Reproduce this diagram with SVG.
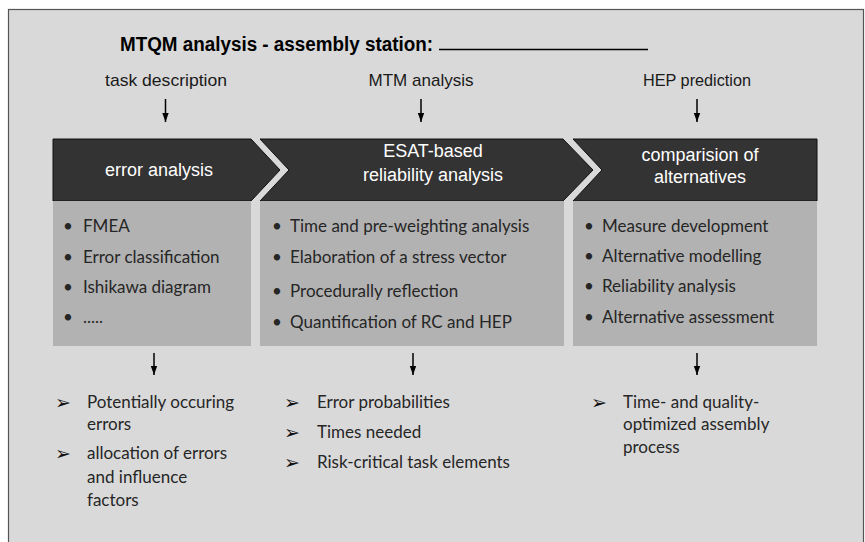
<svg xmlns="http://www.w3.org/2000/svg" width="865" height="542" viewBox="0 0 865 542">
<style>
.title{font-family:"Liberation Sans Narrow","Liberation Sans",Arial,sans-serif;font-weight:bold;font-size:20px;fill:#000}
.in{font-family:"Liberation Sans Narrow","Liberation Sans",Arial,sans-serif;font-size:17px;fill:#1a1a1a;text-anchor:middle}
.chev{fill:#333333;stroke:#111;stroke-width:1}
.ct{font-family:"Liberation Sans",Arial,sans-serif;font-size:18px;fill:#ffffff;text-anchor:middle}
.box{fill:#b2b2b2}
.bt{font-family:Lato,"Open Sans",sans-serif;font-size:17px;fill:#262626}
.ot{font-family:Lato,"Open Sans",sans-serif;font-size:17px;fill:#262626}
.ab{font-family:"DejaVu Sans",sans-serif;font-size:19px;fill:#111}
.arr{stroke:#000;stroke-width:1.5;fill:none;marker-end:url(#ah)}
</style>
<defs>
<marker id="ah" markerWidth="9" markerHeight="8" refX="9" refY="4" orient="auto" markerUnits="userSpaceOnUse" viewBox="0 0 9 8">
<path d="M0,0.8 L9,4 L0,7.2 Z" fill="#000"/>
</marker>
</defs>
<rect x="0" y="0" width="865" height="542" fill="#ffffff"/>
<rect x="8.5" y="9.5" width="855" height="540" fill="#d9d9d9" stroke="#555" stroke-width="1.2"/>

<g id="title">
<text class="title" x="120" y="51" textLength="313" lengthAdjust="spacingAndGlyphs">MTQM analysis - assembly station:</text>
<line x1="439" y1="49.5" x2="648" y2="49.5" stroke="#000" stroke-width="1.5"/>
</g>

<g id="inputs">
<text class="in" x="166" y="86" textLength="122" lengthAdjust="spacingAndGlyphs">task description</text>
<text class="in" x="421" y="86" textLength="105" lengthAdjust="spacingAndGlyphs">MTM analysis</text>
<text class="in" x="697" y="86" textLength="108" lengthAdjust="spacingAndGlyphs">HEP prediction</text>
</g>

<g id="connectors">
<line class="arr" x1="165.5" y1="99" x2="165.5" y2="122"/>
<line class="arr" x1="421" y1="99" x2="421" y2="122"/>
<line class="arr" x1="697" y1="99" x2="697" y2="122"/>
<line class="arr" x1="154" y1="353" x2="154" y2="375"/>
<line class="arr" x1="413" y1="353" x2="413" y2="375"/>
<line class="arr" x1="697" y1="353" x2="697" y2="375"/>
</g>

<g id="error-analysis">
<polygon class="chev" points="53,139 251,139 280,170 251,201 53,201"/>
<text class="ct" x="159" y="176">error analysis</text>
<rect class="box" x="53" y="201" width="198" height="145"/>
<text class="bt" x="63" y="232">•</text><text class="bt" x="83" y="232">FMEA</text>
<text class="bt" x="63" y="263">•</text><text class="bt" x="83" y="263">Error classification</text>
<text class="bt" x="63" y="293">•</text><text class="bt" x="83" y="293">Ishikawa diagram</text>
<text class="bt" x="63" y="323">•</text><text class="bt" x="83" y="323">.....</text>
</g>

<g id="esat">
<polygon class="chev" points="260,139 563,139 593,170 563,201 260,201 289,170"/>
<text class="ct" x="433" y="157">ESAT-based</text>
<text class="ct" x="433" y="181">reliability analysis</text>
<rect class="box" x="260" y="201" width="304" height="145"/>
<text class="bt" x="272" y="232">•</text><text class="bt" x="290" y="232">Time and pre-weighting analysis</text>
<text class="bt" x="272" y="263">•</text><text class="bt" x="290" y="263">Elaboration of a stress vector</text>
<text class="bt" x="272" y="297">•</text><text class="bt" x="290" y="297">Procedurally reflection</text>
<text class="bt" x="272" y="328">•</text><text class="bt" x="290" y="328">Quantification of RC and HEP</text>
</g>

<g id="comparison">
<polygon class="chev" points="573,139 817,139 817,201 573,201 602,170"/>
<text class="ct" x="700" y="161">comparision of</text>
<text class="ct" x="700" y="183">alternatives</text>
<rect class="box" x="573" y="201" width="244" height="145"/>
<text class="bt" x="584" y="232">•</text><text class="bt" x="602" y="232">Measure development</text>
<text class="bt" x="584" y="262">•</text><text class="bt" x="602" y="262">Alternative modelling</text>
<text class="bt" x="584" y="292">•</text><text class="bt" x="602" y="292">Reliability analysis</text>
<text class="bt" x="584" y="323">•</text><text class="bt" x="602" y="323">Alternative assessment</text>
</g>

<g id="out-errors">
<text class="ab" x="55" y="409">➢</text><text class="ot" x="87" y="408">Potentially occuring</text>
<text class="ot" x="87" y="430">errors</text>
<text class="ab" x="55" y="460">➢</text><text class="ot" x="87" y="459">allocation of errors</text>
<text class="ot" x="87" y="483">and influence</text>
<text class="ot" x="87" y="506">factors</text>
</g>

<g id="out-esat">
<text class="ab" x="284" y="409">➢</text><text class="ot" x="317" y="408">Error probabilities</text>
<text class="ab" x="284" y="439">➢</text><text class="ot" x="317" y="438">Times needed</text>
<text class="ab" x="284" y="469">➢</text><text class="ot" x="317" y="468">Risk-critical task elements</text>
</g>

<g id="out-comparison">
<text class="ab" x="591" y="409">➢</text><text class="ot" x="623" y="408">Time- and quality-</text>
<text class="ot" x="623" y="430">optimized assembly</text>
<text class="ot" x="623" y="453">process</text>
</g>
</svg>
